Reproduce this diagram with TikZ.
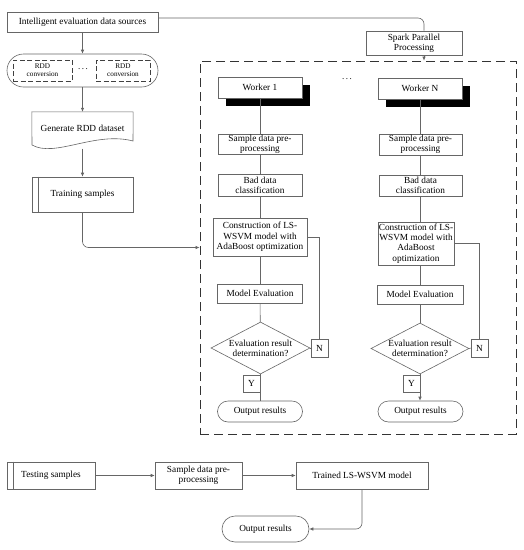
\documentclass[tikz,border=0pt]{standalone}
\usepackage{fontspec}
\setmainfont{Liberation Serif}
\usetikzlibrary{arrows.meta,shapes.misc,shapes.geometric,shadows}
\begin{document}
\begin{tikzpicture}[x=1pt,y=-1pt,
  every node/.style={font=\fontsize{9.3}{10.3}\selectfont, inner sep=0pt, align=center, text=black},
  box/.style={draw=black!60, line width=0.6pt, fill=white},
  conn/.style={draw=black!60, line width=0.6pt},
  arr/.style={conn, -{Latex[length=4pt,width=3.5pt]}},
  term/.style={box, rounded rectangle},
  worker/.style={box, general shadow={fill=black, shadow xshift=8pt, shadow yshift=-8pt}},
  rddbox/.style={draw=black!75, line width=0.8pt, dash pattern=on 5pt off 2.5pt, font=\fontsize{7.2}{8}\selectfont},
  small/.style={font=\fontsize{9}{9}\selectfont}
]
\useasboundingbox (0,0) rectangle (524,550);

% left column
\node[box, minimum width=151pt, minimum height=20pt] (intel) at (82.5,22) {Intelligent evaluation data sources};
\node[term, minimum width=151pt, minimum height=33pt] (rdd) at (82.5,70.5) {};
\node[rddbox, minimum width=59pt, minimum height=21pt] (rddA) at (42.5,70.5) {RDD\\conversion};
\node[rddbox, minimum width=54pt, minimum height=21pt] (rddB) at (123,70.5) {RDD\\conversion};
\node[small] (dotsA) at (83,69) {.\,.\,.};
\node[minimum width=101pt, minimum height=32pt] (gen) at (82.5,128) {Generate RDD dataset};
\draw[conn] (gen.north east) -- (gen.north west) -- (32,145) .. controls (55,158) and (95,131) .. (133,141) -- (gen.north east);
\coordinate (genb) at (82.5,148.5);
\node[box, minimum width=101pt, minimum height=35pt] (train) at (82.5,194.5) {Training samples};
\draw[conn] ([xshift=7pt]train.north west) -- ([xshift=7pt]train.south west);

\draw[arr] (intel) -- (rdd);
\draw[arr] (rdd) -- (gen.north);
\draw[arr] (genb) -- (train);

% cluster
\node[draw=black!80, line width=0.8pt, dash pattern=on 9pt off 5pt, minimum width=316pt, minimum height=373pt] (cluster) at (358,247.5) {};
\node[box, minimum width=96pt, minimum height=24pt] (spark) at (414,43) {Spark Parallel\\Processing};
\draw[conn, rounded corners=6pt] ([yshift=4pt]intel.east) -| ([xshift=10pt]spark.north);
\draw[arr] ([xshift=10pt]spark.south) -- ([xshift=10pt]spark.south |- cluster.north);
\draw[arr, rounded corners=6pt] (train.south) |- (cluster.west);

% worker 1
\node[worker, minimum width=84pt, minimum height=21pt] (w1) at (260,87.5) {Worker 1};
\node[box, minimum width=84pt, minimum height=20pt] (s1) at (260,144) {Sample data pre-\\processing};
\node[box, minimum width=84pt, minimum height=22pt] (b1) at (260,185) {Bad data\\classification};
\node[box, minimum width=94pt, minimum height=38pt] (c1) at (260,237) {Construction of LS-\\WSVM model with\\AdaBoost optimization};
\node[box, minimum width=85pt, minimum height=19pt] (m1) at (260,293.5) {Model Evaluation};
\node[box, diamond, minimum width=99pt, minimum height=52pt] (d1) at (260.5,348) {};
\node (d1t) at (260.5,348) {Evaluation result\\determination?};
\node[box, minimum width=17pt, minimum height=18pt] (n1) at (319.5,348) {N};
\node[box, minimum width=17pt, minimum height=17pt] (y1) at (251.5,383.5) {Y};
\node[term, minimum width=85pt, minimum height=21pt] (o1) at (260,411.5) {Output results};

\draw[conn] (w1) -- (s1);
\draw[conn] (s1) -- (b1);
\draw[conn] (b1) -- (c1);
\draw[conn] (c1) -- (m1);
\draw[conn] (m1) -- (d1);
\draw[conn] (d1.south) -- (d1.south |- o1.north);
\draw[conn] (d1.east) -- (n1.west);
\draw[conn] (n1.north) |- (c1.east);

% worker N
\node[small] (dotsW) at (347,79) {.\,.\,.};
\node[worker, minimum width=84pt, minimum height=21pt] (wN) at (420,88.5) {Worker N};
\node[box, minimum width=83pt, minimum height=21pt] (sN) at (420.5,144.5) {Sample data pre-\\processing};
\node[box, minimum width=83pt, minimum height=21pt] (bN) at (420.5,185.5) {Bad data\\classification};
\node[box, minimum width=76pt, minimum height=43pt] (cN) at (416,243.5) {Construction of LS-\\WSVM model with\\AdaBoost\\optimization};
\node[box, minimum width=86pt, minimum height=19pt] (mN) at (420,294.5) {Model Evaluation};
\node[box, diamond, minimum width=98pt, minimum height=51pt] (dN) at (420,348.5) {};
\node (dNt) at (420,348.5) {Evaluation result\\determination?};
\node[box, minimum width=17pt, minimum height=18pt] (nN) at (479.5,348) {N};
\node[box, minimum width=17pt, minimum height=17pt] (yN) at (411.5,383.5) {Y};
\node[term, minimum width=85pt, minimum height=21pt] (oN) at (420.5,411.5) {Output results};

\draw[conn] (wN.south) -- (wN.south |- sN.north);
\draw[conn] (sN) -- (bN);
\draw[conn] (bN.south) -- (bN.south |- cN.north);
\draw[conn] (mN.north |- cN.south) -- (mN.north);
\draw[conn] (mN) -- (dN);
\draw[arr] (dN.south) -- (dN.south |- oN.north);
\draw[conn] (dN.east) -- (nN.west);
\draw[conn] (nN.north) |- (cN.east);

% bottom row
\node[box, minimum width=88pt, minimum height=27pt] (test) at (51,475.5) {Testing samples};
\draw[conn] ([xshift=7pt]test.north west) -- ([xshift=7pt]test.south west);
\node[box, minimum width=87pt, minimum height=27pt] (sb) at (198.5,475.5) {Sample data pre-\\processing};
\node[box, minimum width=132pt, minimum height=27pt] (trained) at (362,475.5) {Trained LS-WSVM model};
\node[term, minimum width=87pt, minimum height=26pt] (ob) at (265.5,529) {Output results};
\draw[arr] (test) -- (sb);
\draw[arr] (sb) -- (trained);
\draw[arr, rounded corners=6pt] (trained.south) |- (ob.east);
\end{tikzpicture}
\end{document}
